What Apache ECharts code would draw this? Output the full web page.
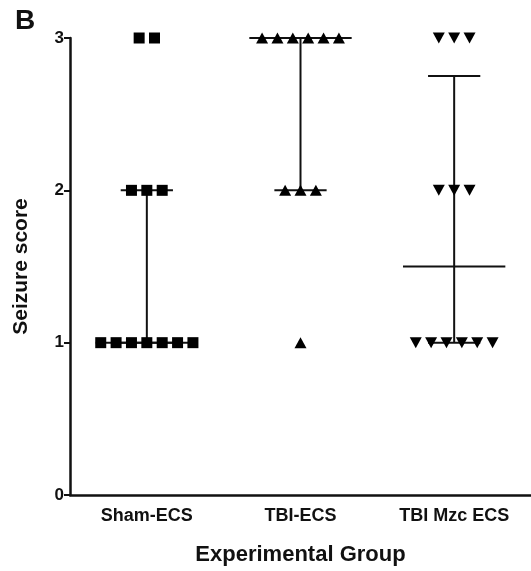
<!DOCTYPE html>
<html>
<head>
<meta charset="utf-8">
<script src="https://cdn.jsdelivr.net/npm/echarts@6/dist/echarts.min.js"></script>
<style>
  html, body { margin: 0; padding: 0; background: #fff; }
  #myChart { width: 531px; height: 571px; }
</style>
</head>
<body>
<div id="myChart"></div>
<script>
  // groups on the x axis
  var groups = ['Sham-ECS', 'TBI-ECS', 'TBI Mzc ECS'];
  var yTicks = [0, 1, 2, 3];

  // seizure score of each animal
  var shamScores = [3, 3, 2, 2, 2, 1, 1, 1, 1, 1, 1, 1];
  var tbiScores = [3, 3, 3, 3, 3, 3, 2, 2, 2, 1];
  var mzcScores = [3, 3, 3, 2, 2, 2, 1, 1, 1, 1, 1, 1];

  // median with interquartile range per group
  var medians = [1, 3, 1.5];
  var q1 = [1, 2, 1];
  var q3 = [2, 3, 2.75];

  var font = 'Liberation Sans, Arial, sans-serif';

  // spread points with equal score side by side around the group centre
  function spread(scores, groupIndex) {
    var counts = {};
    var seen = {};
    scores.forEach(function (s) { counts[s] = (counts[s] || 0) + 1; });
    return scores.map(function (s) {
      var k = seen[s] || 0;
      seen[s] = k + 1;
      return [groupIndex + (k - (counts[s] - 1) / 2) * 0.1, s];
    });
  }

  var summary = groups.map(function (g, i) {
    return [i, medians[i], q1[i], q3[i]];
  });

  function renderSummary(params, api) {
    var x = api.value(0);
    var lineStyle = {stroke: '#111', lineWidth: 2};
    function seg(x1, y1, x2, y2) {
      var a = api.coord([x1, y1]);
      var b = api.coord([x2, y2]);
      return {type: 'line', shape: {x1: a[0], y1: a[1], x2: b[0], y2: b[1]}, style: lineStyle};
    }
    return {
      type: 'group',
      children: [
        seg(x - 0.333, api.value(1), x + 0.333, api.value(1)),
        seg(x - 0.17, api.value(2), x + 0.17, api.value(2)),
        seg(x - 0.17, api.value(3), x + 0.17, api.value(3)),
        seg(x, api.value(2), x, api.value(3))
      ]
    };
  }

  var myChart = echarts.init(document.getElementById('myChart'));
  var option = {
    animation: false,
    title: {
      text: 'B',
      left: 10,
      top: 2,
      textStyle: {fontSize: 28, fontWeight: 'bold', color: '#111', fontFamily: font}
    },
    grid: {
      left: 70,
      top: 38,
      width: 468,
      bottom: 76
    },
    xAxis: [
      {
        type: 'category',
        data: groups,
        boundaryGap: true,
        axisLine: {lineStyle: {color: '#111', width: 2.5}},
        axisTick: {alignWithLabel: true, length: 6, lineStyle: {color: '#111', width: 2}},
        axisLabel: {fontSize: 18, fontWeight: 'bold', color: '#111', fontFamily: font, margin: 12},
        splitLine: {show: false},
        name: 'Experimental Group',
        nameLocation: 'middle',
        nameGap: 49,
        nameTextStyle: {fontSize: 22, fontWeight: 'bold', color: '#111', fontFamily: font}
      },
      {
        type: 'value',
        min: -0.5,
        max: 2.5,
        show: false
      }
    ],
    yAxis: {
      type: 'value',
      min: yTicks[0],
      max: yTicks[yTicks.length - 1],
      interval: 1,
      axisLine: {show: true, onZero: false, lineStyle: {color: '#111', width: 2.5}},
      axisTick: {show: true, length: 6, lineStyle: {color: '#111', width: 2}},
      axisLabel: {fontSize: 17, fontWeight: 'bold', color: '#111', fontFamily: font, margin: 6},
      splitLine: {show: false},
      name: 'Seizure score',
      nameLocation: 'middle',
      nameRotate: 90,
      nameGap: 38,
      nameTextStyle: {fontSize: 21, fontWeight: 'bold', color: '#111', fontFamily: font}
    },
    series: [
      {
        type: 'custom',
        xAxisIndex: 1,
        renderItem: renderSummary,
        data: summary,
        z: 1
      },
      {
        name: groups[0],
        type: 'scatter',
        xAxisIndex: 1,
        symbol: 'rect',
        symbolSize: 11,
        itemStyle: {color: '#000', opacity: 1},
        data: spread(shamScores, 0),
        z: 3
      },
      {
        name: groups[1],
        type: 'scatter',
        xAxisIndex: 1,
        symbol: 'triangle',
        symbolSize: [12, 11],
        itemStyle: {color: '#000', opacity: 1},
        data: spread(tbiScores, 1),
        z: 3
      },
      {
        name: groups[2],
        type: 'scatter',
        xAxisIndex: 1,
        symbol: 'triangle',
        symbolRotate: 180,
        symbolSize: [12, 11],
        itemStyle: {color: '#000', opacity: 1},
        data: spread(mzcScores, 2),
        z: 3
      }
    ]
  };
  myChart.setOption(option);
</script>
</body>
</html>
